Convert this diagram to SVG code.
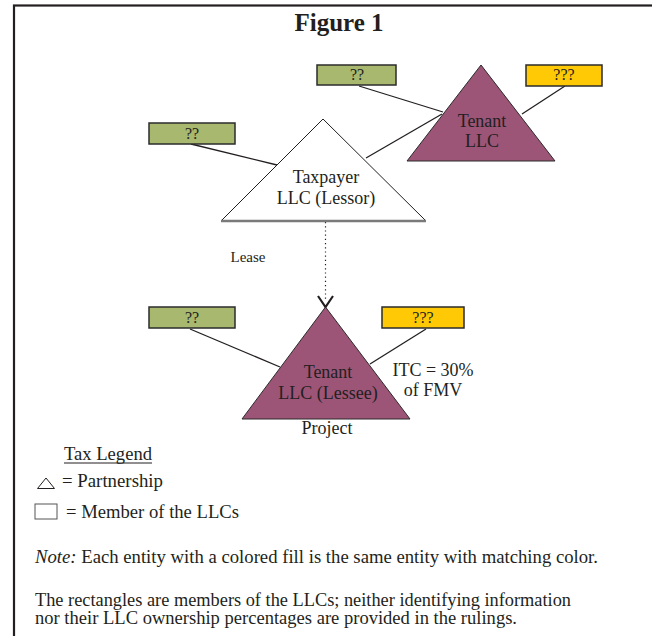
<svg xmlns="http://www.w3.org/2000/svg" width="652" height="636" viewBox="0 0 652 636">
<defs>
<style>
text{font-family:"Liberation Serif","Times New Roman",serif;fill:#231f20}
.box{stroke:#2b2b2b;stroke-width:1.5}
.green{fill:#a9b86f}
.yellow{fill:#ffc905}
.purple{fill:#9d5577;stroke:#2b2b2b;stroke-width:1}
.ln{stroke:#231f20;stroke-width:1.3;fill:none}
.lbl{font-size:16px;text-anchor:middle}
.nt{font-size:18px;text-anchor:middle}
.body{font-size:18px}
</style>
</defs>
<rect x="0" y="0" width="652" height="636" fill="#ffffff"/>
<rect x="14" y="5.5" width="700" height="700" fill="none" stroke="#231f20" stroke-width="2.2"/>
<text x="339" y="31" font-size="25" font-weight="bold" text-anchor="middle">Figure 1</text>

<g id="connectors">
<line class="ln" x1="359" y1="86" x2="443" y2="112"/>
<line class="ln" x1="565" y1="86" x2="522" y2="114"/>
<line class="ln" x1="191" y1="144" x2="277" y2="165"/>
<line class="ln" x1="366" y1="158" x2="442" y2="114"/>
<line class="ln" x1="190" y1="329" x2="280" y2="367"/>
<line class="ln" x1="426" y1="329" x2="370" y2="364"/>
<line x1="325.5" y1="222" x2="325.5" y2="300" stroke="#231f20" stroke-width="1.2" stroke-dasharray="1.2,3"/>
<polyline points="318,296 325.5,307 333,296" fill="none" stroke="#231f20" stroke-width="2.2"/>
</g>

<g id="tenant-llc">
<polygon class="purple" points="481,65 407,161 555,161"/>
<text class="nt" x="482" y="127">Tenant</text>
<text class="nt" x="482" y="147">LLC</text>
</g>

<g id="taxpayer-llc">
<polygon points="323,119 221,221 426,221" fill="#ffffff" stroke="#231f20" stroke-width="1"/>
<line x1="221" y1="221" x2="426" y2="221" stroke="#7a7a7a" stroke-width="2.5"/>
<text class="nt" x="326" y="183">Taxpayer</text>
<text class="nt" x="326" y="204">LLC (Lessor)</text>
</g>

<g id="tenant-llc-lessee">
<polygon class="purple" points="325.5,307 242,419 410,419"/>
<text class="nt" x="328" y="378">Tenant</text>
<text class="nt" x="328" y="399">LLC (Lessee)</text>
<text class="nt" x="327" y="434">Project</text>
</g>

<g id="member-top">
<rect class="box green" x="317" y="65" width="79" height="20"/>
<text class="lbl" x="357" y="80">??</text>
</g>
<g id="member-top-yellow">
<rect class="box yellow" x="526" y="65" width="76" height="21"/>
<text class="lbl" x="564" y="80">???</text>
</g>
<g id="member-left">
<rect class="box green" x="149" y="123" width="86" height="21"/>
<text class="lbl" x="192" y="139">??</text>
</g>
<g id="member-bottom-left">
<rect class="box green" x="149" y="307" width="86" height="21"/>
<text class="lbl" x="192" y="323">??</text>
</g>
<g id="member-bottom-yellow">
<rect class="box yellow" x="382" y="307" width="82" height="21"/>
<text class="lbl" x="423" y="323">???</text>
</g>

<text x="248" y="262" font-size="15" text-anchor="middle">Lease</text>
<text class="nt" x="433" y="376">ITC = 30%</text>
<text class="nt" x="433" y="396">of FMV</text>

<g id="legend">
<text class="body" x="64" y="460" textLength="88" lengthAdjust="spacingAndGlyphs">Tax Legend</text>
<line x1="64" y1="463" x2="152" y2="463" stroke="#231f20" stroke-width="1"/>
<polygon points="46,478 37.5,488.5 54.5,488.5" fill="none" stroke="#231f20" stroke-width="1"/>
<text class="body" x="62" y="487" textLength="101" lengthAdjust="spacingAndGlyphs">= Partnership</text>
<rect x="35" y="504" width="22" height="15" fill="none" stroke="#555" stroke-width="1"/>
<text class="body" x="66" y="518" textLength="173" lengthAdjust="spacingAndGlyphs">= Member of the LLCs</text>
</g>

<text class="body" x="35" y="563" textLength="563" lengthAdjust="spacingAndGlyphs"><tspan font-style="italic">Note:</tspan> Each entity with a colored fill is the same entity with matching color.</text>
<text class="body" x="35" y="606" textLength="536" lengthAdjust="spacingAndGlyphs">The rectangles are members of the LLCs; neither identifying information</text>
<text class="body" x="35" y="624" textLength="482" lengthAdjust="spacingAndGlyphs">nor their LLC ownership percentages are provided in the rulings.</text>
</svg>
